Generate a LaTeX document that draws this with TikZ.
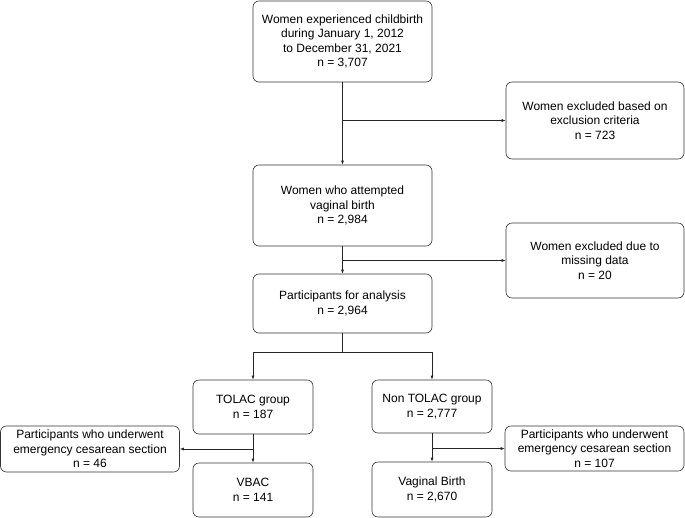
\documentclass[tikz,border=0pt]{standalone}
\usepackage{fontspec}
\setmainfont{Liberation Sans}
\usetikzlibrary{arrows.meta}

\begin{document}
\begin{tikzpicture}[x=1pt,y=-1pt]
\tikzstyle{box}=[rectangle,rounded corners=6pt,draw=black!80,line width=0.6pt,align=center,font=\fontsize{12}{14.6}\selectfont,inner sep=0pt]
\tikzstyle{arr}=[draw=black!85,line width=0.6pt,-{Latex[length=4pt,width=3pt]}]
\tikzstyle{ln}=[draw=black!85,line width=0.6pt]
\useasboundingbox (0,0) rectangle (685,517);
\node [box,minimum width=179pt,minimum height=81pt] (start) at (342.5,41.5) {Women experienced childbirth\\during January 1, 2012\\to December 31, 2021\\n = 3,707};
\node [box,minimum width=178pt,minimum height=77pt] (excla) at (595,120.5) {Women excluded based on\\exclusion criteria\\n = 723};
\node [box,minimum width=179pt,minimum height=81pt] (attempt) at (342.5,205.5) {Women who attempted\\vaginal birth\\n = 2,984};
\node [box,minimum width=178pt,minimum height=75pt] (exclb) at (595,260.5) {Women excluded due to\\missing data\\n = 20};
\node [box,minimum width=179pt,minimum height=59pt] (analysis) at (342.5,303.5) {Participants for analysis\\n = 2,964};
\node [box,minimum width=120pt,minimum height=54pt] (tolac) at (253,407) {TOLAC group\\n = 187};
\node [box,minimum width=120pt,minimum height=53pt] (nontolac) at (432,406.5) {Non TOLAC group\\n = 2,777};
\node [box,minimum width=179pt,minimum height=46pt] (csa) at (90,449) {Participants who underwent\\emergency cesarean section\\n = 46};
\node [box,minimum width=120pt,minimum height=54pt] (vbac) at (253,490) {VBAC\\n = 141};
\node [box,minimum width=179pt,minimum height=45pt] (csb) at (594.5,448.5) {Participants who underwent\\emergency cesarean section\\n = 107};
\node [box,minimum width=120pt,minimum height=55pt] (vag) at (432,489.5) {Vaginal Birth\\n = 2,670};
\coordinate (split) at (342.5,352);
\draw [arr] (start) -- (attempt);
\draw [arr] (start.south |- excla.west) -- (excla.west);
\draw [arr] (attempt) -- (analysis);
\draw [arr] (attempt.south |- exclb.west) -- (exclb.west);
\draw [ln] (analysis) -- (split);
\draw [arr] (split) -| (tolac.north);
\draw [arr] (split) -| (nontolac.north);
\draw [arr] (tolac) -- (vbac);
\draw [arr] (tolac.south |- csa.east) -- (csa.east);
\draw [arr] (nontolac) -- (vag);
\draw [arr] (nontolac.south |- csb.west) -- (csb.west);
\end{tikzpicture}
\end{document}
